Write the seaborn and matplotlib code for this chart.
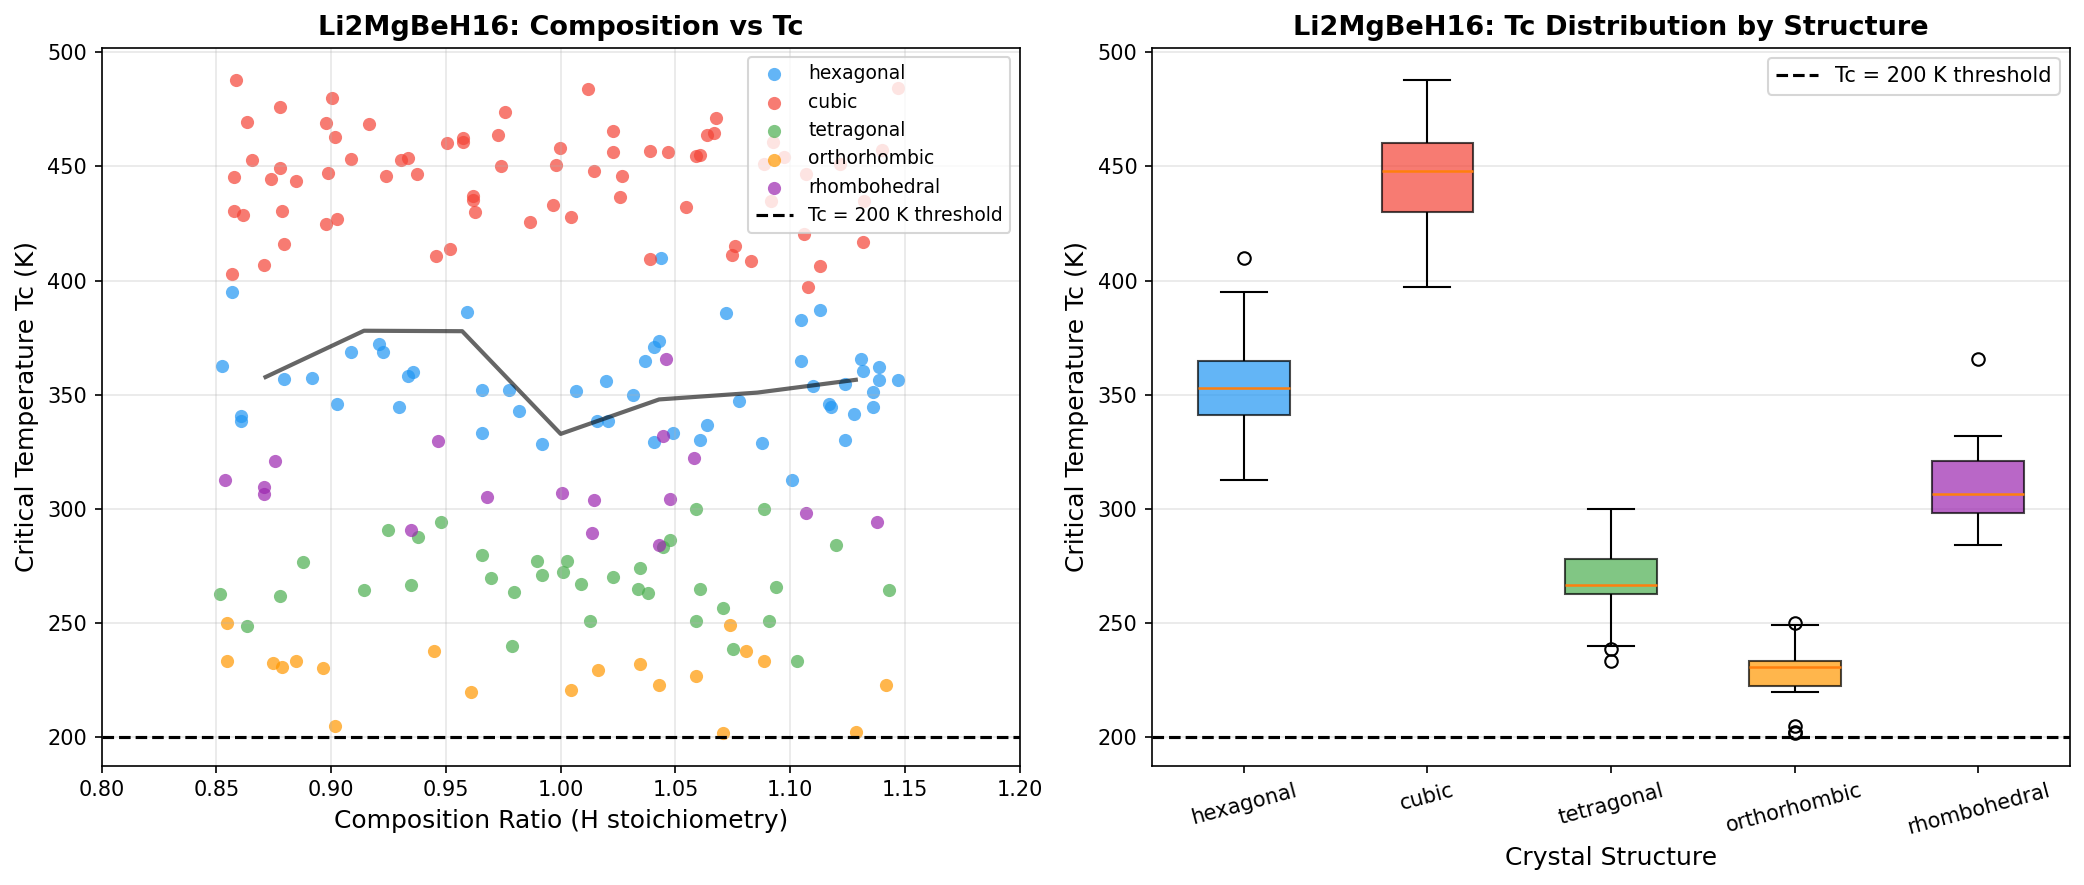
import numpy as np
import pandas as pd
import matplotlib
matplotlib.use("Agg")
import matplotlib.pyplot as plt
import seaborn as sns

structures = ["hexagonal", "cubic", "tetragonal", "orthorhombic", "rhombohedral"]
colors = ["#2196F3", "#F44336", "#4CAF50", "#FF9800", "#9C27B0"]

hex_x = [0.8567, 1.0437, 1.1128, 1.1048, 1.1048, 1.1098, 1.1239, 1.1309, 1.1319, 1.1388,
         1.1388, 1.1468, 1.1359, 1.1359, 1.1168, 1.1179, 1.1280, 1.1239, 1.0879, 1.1007,
         1.0779, 0.8526, 0.8795, 0.8917, 0.9086, 0.9207, 0.9227, 0.9335, 0.9358, 0.9593,
         0.9027, 0.9297, 0.8606, 0.8606, 1.0719, 1.0429, 1.0407, 1.0367, 0.9657, 0.9777,
         1.0067, 1.0197, 1.0316, 0.9818, 0.9657, 0.9918, 1.0157, 1.0208, 1.0408, 1.0488,
         1.0637, 1.0608]
hex_tc = [394.8, 409.8, 387.3, 382.6, 364.8, 353.7, 354.6, 365.4, 360.2, 362.3,
          356.2, 356.4, 351.0, 344.4, 345.8, 344.8, 341.4, 330.2, 329.0, 312.5,
          347.2, 362.6, 356.9, 357.5, 368.8, 372.3, 368.7, 358.1, 359.8, 386.4,
          345.8, 344.8, 340.7, 338.3, 385.7, 373.5, 370.9, 364.6, 352.2, 351.9,
          351.6, 355.8, 349.8, 342.9, 333.0, 328.2, 338.5, 338.5, 329.1, 333.4,
          336.5, 330.2]

cub_x = [0.8587, 0.8777, 0.8635, 0.9005, 0.8977, 0.9017, 0.9166, 0.8655, 0.8777, 0.8577,
         0.8736, 0.8845, 0.8988, 0.9086, 0.9306, 0.9335, 0.9237, 0.9376, 0.9506, 0.9574,
         0.9574, 0.8577, 0.8616, 0.8787, 0.8977, 0.9027, 0.8795, 0.8707, 0.8567, 0.9456,
         0.9517, 0.9618, 0.9618, 0.9627, 0.9758, 0.9727, 0.9738, 0.9997, 0.9978, 1.0118,
         1.0227, 1.0227, 1.0147, 1.0267, 1.0258, 0.9867, 0.9968, 1.0046, 1.0388, 1.0468,
         1.0589, 1.0608, 1.0637, 1.0669, 1.0678, 1.0548, 1.0388, 1.0758, 1.0748, 1.0828,
         1.1470, 1.0927, 1.0971, 1.0888, 1.1401, 1.1219, 1.1069, 1.0917, 1.1321, 1.1059,
         1.1318, 1.1128, 1.1079]
cub_tc = [487.8, 475.9, 469.4, 479.9, 469.0, 462.9, 468.8, 452.7, 449.2, 445.5,
          444.7, 443.4, 447.1, 453.1, 452.7, 453.6, 445.7, 446.5, 460.1, 462.6,
          460.5, 430.4, 428.9, 430.6, 424.9, 426.8, 416.2, 406.8, 402.7, 410.8,
          413.6, 437.2, 435.3, 430.1, 473.7, 463.9, 450.3, 457.9, 450.8, 483.8,
          465.3, 456.4, 447.8, 445.9, 436.4, 425.8, 432.9, 428.0, 456.6, 456.4,
          454.5, 454.8, 463.7, 464.6, 471.4, 432.0, 409.3, 415.1, 411.4, 408.6,
          484.4, 460.8, 454.2, 451.2, 457.3, 451.2, 446.6, 434.9, 434.9, 420.2,
          417.0, 406.2, 397.1]

tet_x = [0.9246, 0.9377, 0.9478, 0.8876, 1.0589, 1.0888, 1.0478, 1.0447, 0.9657, 0.9898,
         1.0028, 1.0347, 0.8515, 0.8777, 0.8635, 0.9145, 0.9347, 0.9698, 0.9797, 0.9787,
         0.9917, 1.0009, 1.0087, 1.0127, 1.1200, 1.0227, 1.0338, 1.0379, 1.0608, 1.0939,
         1.1429, 1.0709, 1.0589, 1.0908, 1.0749, 1.1029]
tet_tc = [290.8, 287.7, 294.1, 276.6, 299.8, 300.0, 286.1, 283.1, 279.7, 277.3,
          276.9, 273.9, 262.7, 261.9, 248.5, 264.3, 266.4, 269.6, 263.4, 239.7,
          271.1, 272.1, 267.0, 250.7, 284.0, 269.9, 265.0, 263.1, 265.0, 265.8,
          264.6, 256.6, 250.8, 250.8, 238.7, 233.1]

ort_x = [0.8546, 0.8546, 0.8747, 0.8787, 0.8847, 0.8966, 0.9016, 0.9447, 0.9608, 1.0046,
         1.0162, 1.0347, 1.0429, 1.0589, 1.0737, 1.0807, 1.0888, 1.1419, 1.0709, 1.1289]
ort_tc = [249.9, 233.2, 232.5, 230.7, 233.5, 230.3, 205.0, 237.8, 219.7, 220.8,
          229.2, 232.0, 222.8, 226.8, 249.0, 237.7, 233.1, 222.7, 201.7, 202.4]

rho_x = [1.0458, 0.9466, 0.8756, 0.8537, 0.8707, 0.8707, 0.9347, 1.0447, 1.0579, 0.9678,
         1.0007, 1.0147, 1.0478, 1.0138, 1.0427, 1.1069, 1.1379]
rho_tc = [365.7, 329.6, 320.8, 312.5, 309.6, 306.6, 290.6, 331.9, 322.2, 305.3,
          306.8, 303.8, 304.3, 289.2, 284.0, 298.3, 294.2]

trend_x = [0.8714, 0.9143, 0.9571, 1.0000, 1.0429, 1.0857, 1.1286]
trend_tc = [357.7, 378.0, 377.8, 332.8, 347.9, 350.9, 356.5]

threshold = 200
tick_x = [0.80, 0.85, 0.90, 0.95, 1.00, 1.05, 1.10, 1.15, 1.20]

xs = [hex_x, cub_x, tet_x, ort_x, rho_x]
tcs = [hex_tc, cub_tc, tet_tc, ort_tc, rho_tc]
df = pd.concat([pd.DataFrame({"ratio": x, "tc": t, "structure": s})
                for x, t, s in zip(xs, tcs, structures)], ignore_index=True)
pal = dict(zip(structures, colors))

plt.rcParams["font.family"] = ["DejaVu Sans"]
fig, (ax1, ax2) = plt.subplots(1, 2, figsize=(14, 6), dpi=150)

for s in structures:
    sub = df[df.structure == s]
    sns.scatterplot(data=sub, x="ratio", y="tc", color=pal[s], alpha=0.7, s=40,
                    linewidth=0, label=s, ax=ax1, legend=False)
ax1.plot(trend_x, trend_tc, color="black", alpha=0.6, lw=2)
ax1.axhline(threshold, color="black", ls="--", lw=1.5, label="Tc = 200 K threshold")
ax1.set_xlim(0.80, 1.20)
ax1.set_xticks(tick_x)
ax1.set_xlabel("Composition Ratio (H stoichiometry)", fontsize=12)
ax1.set_ylabel("Critical Temperature Tc (K)", fontsize=12)
ax1.set_title("Li2MgBeH16: Composition vs Tc", fontsize=13, fontweight="bold")
ax1.grid(True, alpha=0.3)
ax1.legend(loc="upper right", fontsize=9)

sns.boxplot(data=df, x="structure", y="tc", hue="structure", order=structures,
            palette=pal, saturation=1, width=0.5, linecolor="black", linewidth=1,
            legend=False, ax=ax2,
            boxprops=dict(alpha=0.7),
            medianprops=dict(color="#ff7f0e", linewidth=1.2, alpha=1, zorder=5),
            flierprops=dict(marker="o", markerfacecolor="none", markeredgecolor="black",
                            markersize=6))
for patch in ax2.patches:
    patch.set_edgecolor((0, 0, 0, 0.75))
ax2.axhline(threshold, color="black", ls="--", lw=1.5, label="Tc = 200 K threshold")
ax2.set_xlabel("Crystal Structure", fontsize=12)
ax2.set_ylabel("Critical Temperature Tc (K)", fontsize=12)
ax2.set_title("Li2MgBeH16: Tc Distribution by Structure", fontsize=13, fontweight="bold")
ax2.tick_params(axis="x", rotation=15)
ax2.grid(True, axis="y", alpha=0.3)
ax2.set_axisbelow(True)
ax2.legend(loc="upper right", fontsize=10)

fig.tight_layout()
fig.savefig("out.png", dpi=150, bbox_inches="tight")
